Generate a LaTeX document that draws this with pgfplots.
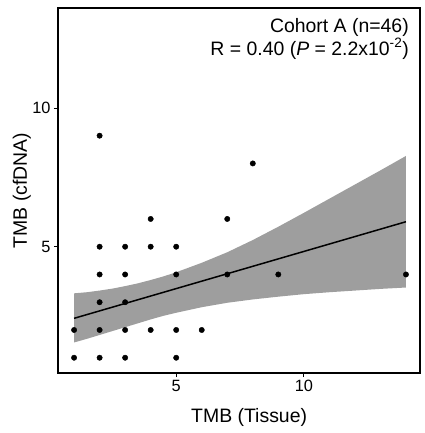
\documentclass[border=0pt]{standalone}
\usepackage{pgfplots}
\pgfplotsset{compat=1.18}
\usepackage{fontspec}
\setmainfont{Liberation Sans}
\usetikzlibrary{calc}
\definecolor{bandgray}{RGB}{158,158,158}
\begin{document}
\begin{tikzpicture}
\begin{axis}[name=ax, at={(0,0)}, anchor=south west,
  scale only axis, width=362bp, height=365bp,
  xmin=0.37, xmax=14.55, ymin=0.45, ymax=13.6,
  xtick={5,10}, ytick={5,10},
  tick align=outside, tick pos=left, major tick length=4bp,
  axis line style={line width=1.6bp},
  every tick/.style={black, line width=0.8bp},
  ticklabel style={font=\fontsize{16.4}{18}\selectfont},
  /pgf/number format/assume math mode=true,
  xlabel={TMB (Tissue)}, ylabel={TMB (cfDNA)},
  label style={font=\fontsize{19.5}{22}\selectfont},
  xlabel style={at={(axis description cs:0.528,0)}, anchor=base, yshift=-49bp},
  ylabel style={at={(axis description cs:0,0.5)}, anchor=base, yshift=31bp},
  clip=true,
]
% confidence band (upper edge left to right, lower edge right to left)
\addplot[draw=none, fill=bandgray] coordinates {
  (1,3.32) (1.5,3.36) (2,3.42) (2.5,3.49) (3,3.58) (3.5,3.68) (4,3.80)
  (4.5,3.93) (5,4.08) (6,4.42) (7,4.80)
  (8,5.24) (9,5.72) (10,6.22) (11,6.73) (12,7.24) (13,7.75) (14,8.27)
  (14,3.53) (13,3.48) (12,3.42) (11,3.36) (10,3.29) (9,3.20) (8,3.10)
  (7,2.98) (6,2.82) (5,2.62) (4.5,2.51) (4,2.38) (3.5,2.24) (3,2.10)
  (2.5,1.96) (2,1.82) (1.5,1.68) (1,1.55)
} -- cycle;
% regression line
\addplot[black, line width=1.5bp] coordinates {(1,2.42) (14,5.90)};
% points
\addplot[only marks, mark=*, mark size=2.7bp, black] coordinates {
  (1,2) (1,1)
  (2,9) (2,5) (2,4) (2,3) (2,2) (2,1)
  (3,5) (3,4) (3,3) (3,2) (3,1)
  (4,6) (4,5) (4,2)
  (5,5) (5,4) (5,2) (5,1)
  (6,2)
  (7,6) (7,4)
  (8,8)
  (9,4)
  (14,4)
};
\node[anchor=base east, font=\fontsize{19.5}{22}\selectfont, inner sep=0pt]
  at (axis description cs:0.9696,0.934) {Cohort A (n=46)};
\node[anchor=base east, font=\fontsize{19.5}{22}\selectfont, inner sep=0pt]
  at (axis description cs:0.9696,0.871) {R = 0.40 (\textit{P} = 2.2x10\textsuperscript{-2})};
\end{axis}
\pgfresetboundingbox
\path ($(ax.south west)+(-58bp,-60bp)$) rectangle ($(ax.north east)+(5bp,8bp)$);
\end{tikzpicture}
\end{document}
